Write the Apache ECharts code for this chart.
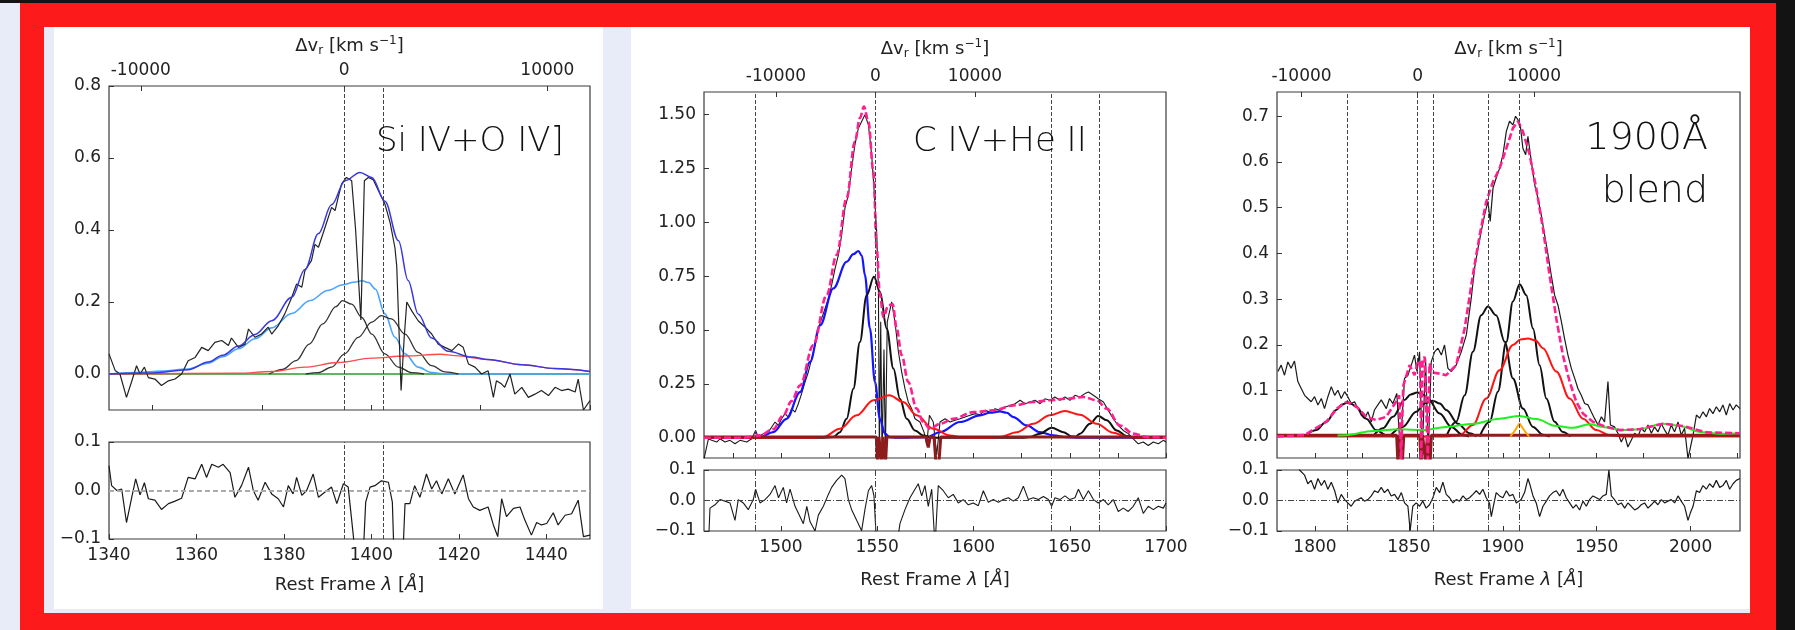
<!DOCTYPE html>
<html>
<head>
<meta charset="utf-8">
<script src="https://cdn.jsdelivr.net/npm/echarts@6/dist/echarts.min.js"></script>
<style>
  html, body { margin: 0; padding: 0; width: 1795px; height: 630px; overflow: hidden; background: #131313; }
  .blk { position: absolute; }
  #chart { position: absolute; left: 0; top: 0; width: 1795px; height: 630px; }
</style>
</head>
<body>
<div class="blk" style="left:0;top:3px;width:20px;height:627px;background:#e8ecf9"></div>
<div class="blk" style="left:20px;top:3px;width:1756px;height:627px;background:#fd1a1a"></div>
<div class="blk" style="left:44px;top:27px;width:1706px;height:586px;background:#e8ecf9"></div>
<div class="blk" style="left:54px;top:27px;width:549px;height:582px;background:#ffffff"></div>
<div class="blk" style="left:631px;top:27px;width:1119px;height:582px;background:#ffffff"></div>
<div id="chart"></div>
<script>
// ---------- axis ranges and ticks ----------
const siRange = [1340, 1450], civRange = [1460, 1700], blendRange = [1779.8, 2026.3];
const siFluxRange = [-0.1, 0.8], civFluxRange = [-0.094, 1.605], blendFluxRange = [-0.047, 0.753];
const residRange = [-0.1, 0.1];
const siYTicks = [0, 0.2, 0.4, 0.6, 0.8];
const civYTicks = [0, 0.25, 0.5, 0.75, 1.0, 1.25, 1.5];
const blendYTicks = [0, 0.1, 0.2, 0.3, 0.4, 0.5, 0.6, 0.7];
const residYTicks = [-0.1, 0, 0.1];
const siWaveLabels = [1340, 1360, 1380, 1400, 1420, 1440];
const civWaveLabels = [1500, 1550, 1600, 1650, 1700];
const blendWaveLabels = [1800, 1850, 1900, 1950, 2000];
const siWaveMinor = [1350, 1375, 1400, 1425, 1450];
const civWaveMinor = [1475, 1500, 1525, 1550, 1575, 1600, 1625, 1650, 1675, 1700];
const blendWaveMinor = [1800, 1825, 1850, 1875, 1900, 1925, 1950, 1975, 2000, 2025];
const velTicks = [-10000, 0, 10000];

// reference wavelengths of the velocity axes and marked line centres [Å]
const siRef = 1393.76, civRef = 1549.06, blendRef = 1854.72;
const siLineCentres = [1393.76, 1402.77];
const civLineCentres = [1486.5, 1549.06, 1640.4, 1665.2];
const blendLineCentres = [1816.98, 1854.72, 1862.79, 1892.03, 1908.73];

const panelNames = ['Si IV+O IV]', 'C IV+He II', '1900Å', 'blend'];

// ---------- Si IV + O IV] ----------
const siData = [[1340.0,0.056],[1341.4,0.010],[1342.5,0.000],[1344.0,-0.065],[1345.2,-0.020],[1346.3,0.023],[1347.1,0.000],[1348.1,0.019],[1349.0,-0.010],[1350.5,-0.014],[1352.0,-0.032],[1353.6,-0.019],[1355.1,-0.014],[1356.6,0.000],[1358.1,0.037],[1359.7,0.046],[1361.2,0.074],[1362.7,0.065],[1364.2,0.088],[1365.8,0.093],[1367.3,0.079],[1368.0,0.100],[1369.6,0.074],[1371.1,0.083],[1371.9,0.125],[1373.4,0.102],[1374.9,0.111],[1376.4,0.130],[1377.2,0.111],[1378.7,0.134],[1380.2,0.167],[1381.8,0.213],[1382.9,0.250],[1384.1,0.241],[1384.8,0.287],[1386.3,0.315],[1387.1,0.360],[1387.9,0.352],[1389.4,0.407],[1390.9,0.463],[1391.7,0.454],[1392.4,0.490],[1393.2,0.528],[1394.3,0.546],[1395.5,0.537],[1396.4,0.400],[1397.6,0.150],[1398.4,0.537],[1399.3,0.546],[1400.4,0.540],[1401.6,0.510],[1403.1,0.472],[1404.3,0.420],[1405.4,0.350],[1405.8,0.300],[1406.8,-0.046],[1407.5,0.100],[1408.1,0.200],[1409.2,0.176],[1410.7,0.148],[1412.3,0.130],[1413.8,0.111],[1415.3,0.083],[1416.8,0.074],[1418.4,0.065],[1419.9,0.083],[1421.0,0.074],[1422.2,0.028],[1423.7,0.019],[1425.2,0.000],[1426.7,0.009],[1427.9,-0.065],[1428.6,-0.019],[1429.8,-0.028],[1430.5,-0.037],[1431.7,0.000],[1432.8,-0.056],[1434.4,-0.037],[1435.9,-0.065],[1437.4,-0.056],[1438.9,-0.046],[1440.5,-0.060],[1442.0,-0.037],[1443.5,-0.046],[1445.0,-0.042],[1446.6,-0.050],[1447.3,-0.014],[1448.5,-0.100],[1450.0,-0.074]];
const siResid = [[1340.0,0.051],[1340.6,0.010],[1341.8,0.000],[1342.9,0.003],[1344.0,-0.066],[1345.2,-0.014],[1346.1,0.024],[1347.1,-0.009],[1348.1,0.016],[1349.0,-0.017],[1350.5,-0.020],[1352.0,-0.039],[1353.6,-0.027],[1355.1,-0.022],[1356.6,-0.016],[1358.1,0.027],[1359.7,0.024],[1361.2,0.054],[1362.3,0.027],[1363.5,0.054],[1365.0,0.048],[1366.1,0.054],[1367.7,0.037],[1368.8,-0.014],[1370.3,0.010],[1371.9,0.048],[1373.0,0.000],[1374.1,-0.020],[1375.7,0.017],[1377.2,-0.007],[1378.7,-0.017],[1379.9,-0.034],[1381.0,0.010],[1382.1,-0.007],[1382.9,0.027],[1384.1,-0.010],[1385.2,0.000],[1386.7,0.034],[1387.9,-0.014],[1389.4,-0.003],[1390.9,0.007],[1392.1,-0.027],[1393.6,0.014],[1394.7,0.007],[1395.9,-0.095],[1396.6,-0.200],[1397.8,-0.200],[1398.7,-0.024],[1399.7,0.007],[1400.8,0.010],[1402.3,0.020],[1403.9,0.017],[1404.8,-0.024],[1405.4,-0.200],[1406.9,-0.200],[1407.7,-0.027],[1408.8,-0.027],[1409.9,0.010],[1411.1,-0.014],[1412.6,0.034],[1413.8,0.003],[1414.9,0.020],[1416.1,-0.007],[1417.6,0.024],[1419.1,-0.007],[1421.0,0.032],[1422.2,-0.017],[1423.3,-0.034],[1424.8,-0.041],[1426.7,-0.034],[1427.9,-0.071],[1428.9,-0.095],[1429.8,-0.017],[1430.9,-0.054],[1432.5,-0.037],[1434.0,-0.034],[1435.1,-0.061],[1436.6,-0.092],[1437.8,-0.066],[1438.9,-0.071],[1440.1,-0.068],[1441.6,-0.046],[1442.7,-0.071],[1444.3,-0.051],[1445.8,-0.048],[1447.3,-0.020],[1448.5,-0.095],[1450.0,-0.092]];
const siTotal = [[1340,0],[1350,0.003],[1358.1,0.012],[1362.7,0.033],[1366,0.052],[1369.6,0.078],[1373.4,0.110],[1377.2,0.148],[1381.8,0.213],[1384.8,0.290],[1387.9,0.390],[1390.9,0.470],[1394.0,0.537],[1397.4,0.560],[1400.1,0.546],[1403.1,0.480],[1406.2,0.370],[1408.4,0.260],[1410.7,0.167],[1413.8,0.100],[1417.6,0.063],[1422.9,0.047],[1426.7,0.040],[1434.4,0.026],[1442,0.015],[1450,0.007]];
const siBroad = [[1340,0],[1346.7,0.004],[1352,0.008],[1358.1,0.014],[1362.7,0.030],[1366,0.048],[1369.6,0.070],[1373.4,0.098],[1377.2,0.128],[1381.8,0.168],[1386,0.204],[1390,0.232],[1393.5,0.248],[1396,0.255],[1397.9,0.259],[1399.4,0.254],[1400.9,0.236],[1403.1,0.167],[1405.4,0.102],[1407.7,0.056],[1410.7,0.019],[1413.8,0.004],[1416.8,0],[1450,0]];
const siCoreA = [[1376.6,0],[1379.7,0.013],[1382.8,0.037],[1385.8,0.083],[1388.9,0.139],[1391.9,0.187],[1393.4,0.204],[1395.5,0.194],[1397.8,0.157],[1400.1,0.111],[1403.1,0.056],[1406.2,0.019],[1409.2,0.004],[1412,0]];
const siCoreB = [[1385,0],[1387.9,0.004],[1390.9,0.019],[1393.9,0.056],[1397,0.102],[1400.1,0.144],[1402.3,0.162],[1404.6,0.153],[1407.7,0.111],[1410.7,0.060],[1413.8,0.023],[1416.8,0.006],[1419.9,0]];
const siRed = [[1340,0],[1369.6,0.002],[1377.2,0.007],[1384.8,0.019],[1392.4,0.032],[1400.1,0.044],[1407.7,0.050],[1415.8,0.055],[1419.1,0.051],[1426.7,0.040],[1434.4,0.026],[1442,0.015],[1450,0.007]];
const siCont = [[1340,0],[1450,0]];

// ---------- C IV + He II ----------
const civData = [[1460.0,-0.098],[1462.3,-0.005],[1464.0,-0.012],[1466.6,-0.020],[1468.3,-0.005],[1470.9,-0.020],[1473.5,-0.012],[1476.1,-0.028],[1478.7,-0.012],[1482.2,-0.020],[1484.8,-0.005],[1486.8,0.034],[1488.2,0.003],[1490.8,0.019],[1493.4,0.026],[1495.2,0.050],[1496.9,0.073],[1498.6,0.057],[1500.3,0.088],[1502.1,0.112],[1503.8,0.096],[1505.5,0.135],[1507.3,0.119],[1509.0,0.158],[1510.7,0.205],[1512.5,0.259],[1514.2,0.305],[1515.9,0.367],[1517.7,0.430],[1519.4,0.507],[1521.1,0.553],[1522.9,0.600],[1524.6,0.647],[1526.3,0.709],[1528.1,0.786],[1529.8,0.848],[1531.5,0.941],[1533.2,1.065],[1535.0,1.127],[1536.7,1.251],[1538.4,1.360],[1540.2,1.437],[1541.9,1.468],[1543.6,1.499],[1545.4,1.453],[1547.1,1.313],[1548.3,1.158],[1549.7,0.957],[1550.6,0.693],[1551.1,-0.080],[1551.8,0.538],[1552.5,-0.080],[1553.5,0.410],[1554.2,-0.080],[1555.2,0.538],[1557.5,0.631],[1559.2,0.538],[1561.0,0.398],[1562.7,0.305],[1564.4,0.228],[1566.1,0.166],[1567.9,0.135],[1569.6,0.088],[1572.2,0.073],[1574.3,0.026],[1575.7,-0.036],[1577.1,0.104],[1579.1,0.073],[1580.9,-0.080],[1582.6,0.073],[1585.2,0.088],[1587.8,0.073],[1590.4,0.081],[1593.0,0.088],[1595.6,0.096],[1598.2,0.104],[1600.8,0.112],[1603.4,0.107],[1606.0,0.127],[1608.6,0.119],[1611.2,0.135],[1613.8,0.127],[1616.4,0.143],[1619.0,0.150],[1621.6,0.158],[1624.2,0.174],[1626.8,0.158],[1629.4,0.166],[1632.0,0.174],[1634.6,0.158],[1637.1,0.181],[1639.7,0.174],[1642.3,0.189],[1644.9,0.174],[1647.5,0.189],[1650.1,0.174],[1652.7,0.197],[1655.3,0.189],[1657.9,0.205],[1659.7,0.212],[1662.3,0.197],[1664.8,0.181],[1667.5,0.166],[1670.0,0.127],[1672.6,0.088],[1675.2,0.057],[1677.8,0.034],[1680.4,0.019],[1683.0,-0.005],[1685.6,-0.028],[1688.2,-0.020],[1690.8,-0.036],[1693.4,-0.020],[1696.0,-0.028],[1698.6,-0.012],[1700.0,-0.020]];
const civResid = [[1460.0,-0.15],[1462.3,-0.15],[1463.1,-0.025],[1465.7,-0.014],[1468.3,0.003],[1470.9,-0.002],[1473.5,-0.008],[1476.1,-0.065],[1477.8,0.003],[1480.4,-0.008],[1483.0,-0.030],[1485.6,0.003],[1486.8,0.037],[1489.1,-0.008],[1491.7,0.003],[1494.3,0.020],[1496.9,0.049],[1498.7,0.009],[1501.2,0.043],[1502.9,-0.008],[1504.7,0.037],[1507.3,-0.019],[1509.9,-0.053],[1511.6,-0.076],[1513.4,-0.019],[1515.1,-0.070],[1517.7,-0.100],[1519.4,-0.048],[1522.0,-0.019],[1524.6,0.020],[1526.3,0.043],[1528.9,0.066],[1531.5,0.083],[1533.2,0.072],[1535.0,0.003],[1536.7,-0.030],[1539.3,-0.065],[1541.9,-0.099],[1543.6,-0.030],[1545.4,0.032],[1547.1,0.049],[1548.3,0.015],[1549.7,-0.15],[1560.1,-0.15],[1561.8,-0.076],[1564.4,-0.030],[1567.0,0.009],[1569.6,0.037],[1571.3,0.055],[1573.1,0.015],[1574.8,0.049],[1576.5,-0.019],[1578.3,0.037],[1580.0,-0.15],[1581.7,0.049],[1584.3,0.032],[1586.9,0.009],[1589.5,0.020],[1592.1,-0.008],[1594.7,0.003],[1597.3,-0.014],[1599.9,-0.008],[1602.5,-0.017],[1605.1,0.032],[1607.7,-0.006],[1610.3,0.003],[1612.9,-0.006],[1615.5,0.003],[1618.1,0.009],[1620.7,-0.002],[1623.3,0.009],[1625.9,0.047],[1628.5,0.003],[1631.1,0.009],[1633.7,0.003],[1636.3,0.013],[1638.9,0.003],[1640.6,-0.019],[1642.3,0.009],[1644.9,0.003],[1647.5,0.015],[1650.1,0.003],[1652.7,0.009],[1654.5,0.037],[1657.1,0.003],[1659.7,0.032],[1662.3,0.003],[1664.8,-0.008],[1667.5,0.003],[1670.0,-0.014],[1672.6,0.003],[1675.2,-0.036],[1677.8,-0.025],[1680.4,-0.036],[1683.0,-0.019],[1685.6,0.009],[1688.2,-0.042],[1690.8,-0.019],[1693.4,-0.030],[1696.0,-0.019],[1698.6,-0.025],[1700.0,-0.008]];
const civTotal = [[1460,0],[1480,0],[1489.1,0.011],[1496,0.040],[1501.2,0.104],[1505.5,0.170],[1509.9,0.243],[1516.8,0.430],[1523.7,0.662],[1528.9,0.848],[1534.1,1.112],[1538.4,1.375],[1541.0,1.484],[1543.1,1.538],[1545.4,1.468],[1548.0,1.236],[1549.7,0.879],[1551.4,0.662],[1553.2,0.560],[1555.8,0.615],[1558.0,0.620],[1560.1,0.507],[1562.7,0.383],[1566.1,0.259],[1570.5,0.135],[1573.9,0.073],[1577.4,0.042],[1582.6,0.065],[1589.5,0.088],[1599.9,0.119],[1610.3,0.127],[1620.7,0.150],[1631.1,0.166],[1639.7,0.174],[1648.4,0.181],[1657.1,0.189],[1664.0,0.174],[1669.2,0.135],[1676.1,0.057],[1683.0,0.019],[1690,0.003],[1700,0]];
const civBlue = [[1460,0],[1484,0],[1489.1,0.003],[1496,0.026],[1502.9,0.088],[1509.9,0.212],[1515.1,0.352],[1520.3,0.522],[1527.2,0.693],[1534.1,0.817],[1537.6,0.852],[1540.2,0.867],[1542,0.845],[1543.6,0.755],[1546.2,0.507],[1548.8,0.259],[1551.4,0.088],[1554,0.019],[1556.6,0.003],[1560,0],[1575.7,0.003],[1582.6,0.026],[1593,0.073],[1603.4,0.104],[1608.6,0.116],[1613.8,0.122],[1617.3,0.116],[1620.7,0.096],[1627.6,0.057],[1634.5,0.026],[1641.5,0.011],[1648.4,0.003],[1655,0],[1700,0]];
const civCores = [[1460,0],[1520,0],[1527.2,0.003],[1530.6,0.026],[1534.1,0.088],[1537.6,0.228],[1541,0.445],[1544.5,0.662],[1548.3,0.747],[1551.4,0.678],[1554.9,0.507],[1558.4,0.321],[1561.8,0.181],[1565.3,0.088],[1569.6,0.034],[1573.9,0.011],[1579.1,0],[1625,0],[1629,0.003],[1634.5,0.019],[1640.6,0.047],[1646.7,0.026],[1651,0.006],[1653,0.005],[1655.3,0.019],[1660.5,0.065],[1664.8,0.101],[1669.2,0.081],[1674.4,0.034],[1679.6,0.008],[1684,0],[1700,0]];
const civRed = [[1460,0],[1515,0],[1522,0.003],[1530.6,0.042],[1539.3,0.104],[1548,0.174],[1556.3,0.197],[1563.5,0.166],[1570.5,0.104],[1579.1,0.042],[1587.8,0.011],[1594.7,0],[1608,0],[1613.8,0.003],[1622.4,0.026],[1631.1,0.065],[1639.7,0.104],[1647.5,0.124],[1655.3,0.107],[1664,0.065],[1672.6,0.023],[1679.6,0.005],[1686,0],[1700,0]];
const civAbs = [[1460,0.004],[1549.5,0.004],[1550.2,-0.12],[1550.9,0.004],[1551.6,0.004],[1552.3,-0.12],[1553.0,0.004],[1553.6,0.004],[1554.3,-0.12],[1555.0,0.004],[1575.5,0.004],[1576.5,-0.045],[1577.5,0.004],[1579.5,0.004],[1580.5,-0.12],[1582,-0.12],[1583,0.004],[1700,0.004]];

// ---------- 1900 Å blend ----------
const blendData = [[1780.3,0.142],[1782.0,0.156],[1783.8,0.134],[1785.6,0.163],[1787.3,0.149],[1789.1,0.165],[1790.9,0.120],[1792.7,0.105],[1794.5,0.090],[1796.2,0.083],[1798.0,0.076],[1799.8,0.087],[1801.6,0.069],[1803.4,0.083],[1805.1,0.061],[1806.9,0.087],[1808.7,0.109],[1810.5,0.090],[1812.2,0.101],[1814.0,0.083],[1815.8,0.098],[1817.5,0.087],[1819.3,0.072],[1821.1,0.076],[1822.9,0.061],[1824.6,0.047],[1826.4,0.039],[1828.2,0.054],[1830.0,0.032],[1831.7,0.058],[1833.5,0.069],[1835.3,0.080],[1838.0,0.061],[1839.7,0.083],[1841.5,0.072],[1843.6,0.094],[1845.4,-0.030],[1847.7,0.127],[1849.5,0.134],[1851.3,0.156],[1853.0,0.178],[1854.3,0.142],[1855.7,0.185],[1857.1,-0.040],[1858.9,0.171],[1860.3,-0.040],[1861.9,0.163],[1863.7,0.185],[1865.5,0.193],[1867.3,0.178],[1869.0,0.200],[1870.8,0.149],[1872.6,0.142],[1875.2,0.156],[1877.9,0.185],[1880.6,0.222],[1883.2,0.302],[1885.0,0.368],[1886.8,0.411],[1888.5,0.448],[1890.3,0.484],[1892.1,0.514],[1893.3,0.470],[1894.8,0.543],[1896.5,0.565],[1898.3,0.586],[1900.1,0.616],[1901.9,0.667],[1903.6,0.689],[1905.4,0.681],[1906.8,0.700],[1908.1,0.692],[1909.3,0.681],[1910.7,0.630],[1912.2,0.616],[1913.4,0.656],[1915.2,0.601],[1917.0,0.550],[1918.7,0.521],[1920.5,0.484],[1922.3,0.440],[1924.1,0.397],[1925.8,0.353],[1927.6,0.309],[1929.4,0.287],[1931.2,0.251],[1932.9,0.214],[1934.7,0.178],[1936.5,0.149],[1938.3,0.127],[1940.0,0.105],[1941.8,0.090],[1943.6,0.072],[1945.4,0.069],[1947.1,0.054],[1948.9,0.039],[1950.7,0.025],[1952.5,0.043],[1954.2,0.032],[1956.0,0.120],[1957.3,0.025],[1959.5,0.021],[1961.3,0.007],[1963.1,-0.012],[1964.9,0.003],[1966.6,-0.023],[1968.4,-0.008],[1970.2,0.007],[1972.0,0.000],[1973.7,0.018],[1975.5,0.010],[1977.3,0.025],[1979.1,0.007],[1980.8,0.021],[1982.6,0.010],[1984.4,0.028],[1986.2,0.014],[1987.9,0.003],[1989.7,0.025],[1991.5,0.010],[1993.3,0.032],[1995.0,0.003],[1996.8,0.018],[1998.6,-0.048],[1999.8,-0.026],[2001.3,0.003],[2003.1,0.047],[2004.8,0.040],[2006.6,0.054],[2008.4,0.043],[2010.1,0.061],[2011.9,0.050],[2013.7,0.065],[2015.5,0.054],[2017.2,0.069],[2019.0,0.047],[2020.8,0.072],[2022.6,0.058],[2024.3,0.069],[2026.3,0.061]];
const blendResid = [[1779.8,0.15],[1791.0,0.15],[1791.8,0.100],[1794.5,0.083],[1796.2,0.055],[1798.0,0.066],[1799.8,0.037],[1801.6,0.072],[1803.4,0.049],[1805.1,0.066],[1806.9,0.037],[1808.7,0.060],[1810.5,0.032],[1812.2,-0.008],[1814.0,0.020],[1815.8,0.003],[1817.5,-0.008],[1819.3,-0.019],[1821.1,-0.002],[1822.9,0.003],[1824.6,0.009],[1826.4,-0.002],[1828.2,0.003],[1830.0,0.015],[1831.7,0.032],[1833.5,0.026],[1835.3,0.043],[1837.0,0.026],[1838.8,0.037],[1840.6,0.015],[1842.4,0.020],[1844.2,0.003],[1846.0,0.026],[1847.7,-0.008],[1849.5,-0.019],[1850.7,-0.099],[1852.1,-0.019],[1853.9,-0.008],[1855.7,-0.019],[1857.4,-0.002],[1859.2,-0.025],[1861.0,-0.014],[1862.8,0.009],[1864.6,0.043],[1866.4,0.026],[1868.1,0.060],[1869.9,0.020],[1871.7,0.009],[1873.5,-0.008],[1875.2,0.003],[1877.0,-0.002],[1878.8,0.015],[1880.6,0.003],[1882.3,0.009],[1884.1,0.020],[1885.9,0.032],[1887.7,0.020],[1889.4,0.037],[1891.2,0.009],[1892.9,-0.008],[1893.9,-0.053],[1894.8,-0.025],[1896.5,0.026],[1898.3,0.015],[1900.1,0.009],[1901.9,0.032],[1903.6,0.015],[1905.4,0.020],[1907.2,-0.008],[1909.8,0.003],[1911.6,0.026],[1913.4,0.072],[1914.6,0.049],[1916.1,0.015],[1917.8,-0.008],[1919.6,-0.053],[1921.4,-0.019],[1923.2,-0.002],[1924.9,0.015],[1926.7,0.026],[1928.5,0.032],[1930.3,0.015],[1932.0,0.037],[1933.8,0.009],[1935.6,-0.008],[1937.4,-0.025],[1939.1,-0.014],[1940.9,-0.031],[1942.7,-0.002],[1944.5,-0.019],[1946.2,0.003],[1948.0,0.015],[1949.8,0.009],[1951.6,0.003],[1953.3,0.015],[1955.1,0.020],[1956.5,0.100],[1957.8,0.015],[1959.5,0.003],[1961.3,-0.014],[1963.1,-0.008],[1964.9,-0.025],[1966.6,-0.008],[1968.4,-0.019],[1970.2,-0.031],[1972.0,-0.025],[1973.7,-0.014],[1975.5,-0.008],[1977.3,-0.025],[1979.1,-0.014],[1980.8,-0.002],[1982.6,-0.014],[1984.4,0.003],[1986.2,-0.008],[1987.9,-0.002],[1989.7,0.003],[1991.5,-0.008],[1993.3,0.015],[1995.0,-0.002],[1996.8,-0.019],[1998.6,-0.065],[1999.8,-0.042],[2001.3,-0.019],[2003.1,0.032],[2004.8,0.026],[2006.6,0.049],[2008.4,0.037],[2010.1,0.055],[2011.9,0.043],[2013.7,0.066],[2015.5,0.043],[2017.2,0.049],[2019.0,0.066],[2020.8,0.037],[2022.6,0.055],[2024.3,0.066],[2026.3,0.072]];
const blendTotal = [[1779.8,0],[1794.5,0.003],[1806,0.032],[1812,0.062],[1817,0.076],[1822,0.066],[1827.3,0.043],[1832.6,0.036],[1837.9,0.043],[1843.2,0.076],[1844.8,0.090],[1845.9,-0.050],[1847,0.110],[1847.7,0.120],[1850.4,0.156],[1853,0.134],[1854.8,0.163],[1856,0.165],[1856.6,-0.050],[1857.3,0.168],[1858.4,0.174],[1859.3,0.170],[1860.1,-0.050],[1861,0.160],[1862.4,0.140],[1865.5,0.138],[1869.9,0.134],[1875.2,0.156],[1879.7,0.236],[1884.1,0.353],[1887.7,0.440],[1891.2,0.513],[1894.8,0.557],[1898.3,0.586],[1901.9,0.630],[1905.4,0.674],[1908.1,0.689],[1910.7,0.667],[1914.3,0.616],[1917.8,0.543],[1921.4,0.455],[1924.9,0.353],[1928.5,0.258],[1932,0.178],[1935.6,0.120],[1939.1,0.076],[1942.7,0.050],[1948,0.032],[1955.1,0.021],[1962.2,0.014],[1972.9,0.016],[1985.3,0.028],[1996,0.023],[2008.4,0.009],[2026.3,0.007]];
const blendSiII = [[1794.5,0],[1800.7,0.014],[1806,0.032],[1811.3,0.058],[1814.5,0.070],[1817,0.074],[1819.5,0.071],[1822,0.065],[1827.3,0.039],[1832.6,0.014],[1837.9,0.003],[1842,0]];
const blendAlIIIa = [[1830.8,0],[1836.2,0.018],[1841.5,0.043],[1847.7,0.080],[1851,0.092],[1854.4,0.096],[1857.5,0.092],[1860.1,0.083],[1866.4,0.050],[1872.6,0.021],[1878.8,0.003],[1882,0]];
const blendAlIIIb = [[1839.7,0],[1846.8,0.021],[1853.9,0.054],[1858.5,0.072],[1862.8,0.078],[1866.5,0.072],[1869.9,0.058],[1876.1,0.028],[1882.3,0.007],[1886,0]];
const blendSiIII = [[1869.9,0],[1875.2,0.032],[1879.7,0.090],[1884.1,0.185],[1888.5,0.265],[1892.1,0.284],[1896.5,0.265],[1901,0.207],[1905.4,0.127],[1910.7,0.061],[1916.1,0.021],[1921.4,0.004],[1925,0]];
const blendCIII = [[1887.7,0],[1893,0.032],[1897.4,0.098],[1901.9,0.207],[1905.4,0.295],[1909,0.333],[1912.5,0.309],[1916.1,0.236],[1919.6,0.156],[1923.2,0.083],[1927.6,0.032],[1932,0.010],[1936,0]];
const blendRed = [[1779.8,0],[1870,0],[1877,0.003],[1884.1,0.025],[1891.2,0.083],[1898.3,0.145],[1905.4,0.200],[1909.5,0.212],[1913.4,0.214],[1917.5,0.210],[1921.4,0.193],[1928.5,0.142],[1935.6,0.083],[1942.7,0.039],[1949.8,0.014],[1956.9,0.003],[1964,0],[2026.3,0]];
const blendFe = [[1812,0.002],[1816.6,0.003],[1830.8,0.012],[1845,0.016],[1857.5,0.014],[1869.9,0.021],[1884.1,0.028],[1898.3,0.039],[1909,0.045],[1917.8,0.038],[1928.5,0.023],[1937.4,0.019],[1946.2,0.027],[1953.3,0.021],[1964,0.014],[1972.9,0.016],[1985.3,0.028],[1994.2,0.023],[2004.8,0.010],[2015.5,0.006],[2026.3,0.007]];
const blendNarrow = [[1904,0],[1906.5,0.013],[1908.9,0.029],[1911.5,0.013],[1914,0]];
const blendAbs = [[1779.8,0.003],[1843.5,0.003],[1844.2,-0.06],[1845,0.003],[1845.8,0.003],[1846.5,-0.06],[1847.3,0.003],[1855.8,0.003],[1856.5,-0.06],[1857.3,0.003],[1858.3,0.003],[1859,-0.06],[1859.8,0.003],[1860.6,0.003],[1861.3,-0.06],[1862,0.003],[2026.3,0.003]];

// ---------- drawing ----------
const C_KMS = 299792.458;
const vel = (lam, ref) => C_KMS * (lam / ref - 1);
const FONT = 'DejaVu Sans';
const TXT = '#222';
const labelStyle = { color: TXT, fontFamily: FONT, fontSize: 17 };
const minusFmt = dec => v => (v < -1e-9 ? '\u2212' : '') + Math.abs(v).toFixed(dec);

const velName = '{t|\u0394v}{s|r}{t| [km s}{p|\u22121}{t|]}';
const velRich = {
  t: { fontFamily: FONT, fontSize: 18, color: TXT, lineHeight: 22 },
  s: { fontFamily: FONT, fontSize: 12, color: TXT, lineHeight: 10, verticalAlign: 'bottom' },
  p: { fontFamily: FONT, fontSize: 12, color: TXT, lineHeight: 10, verticalAlign: 'top' }
};
const waveName = '{t|Rest Frame }{i|\u03bb}{t| [}{i|\u00c5}{t|]}';
const waveRich = {
  t: { fontFamily: FONT, fontSize: 18, color: TXT },
  i: { fontFamily: FONT, fontSize: 18, color: TXT, fontStyle: 'italic' }
};

const grids = [], xAxes = [], yAxes = [], series = [];

function addPanel(L, D) {
  const g = grids.length;
  const frame = { show: true, borderColor: '#3a3a3a', borderWidth: 1.2, backgroundColor: 'rgba(0,0,0,0)', outerBoundsMode: 'none', containLabel: false };
  grids.push(Object.assign({ left: L.x, top: L.top, width: L.w, height: L.h }, frame));
  grids.push(Object.assign({ left: L.x, top: L.rtop, width: L.w, height: L.rh }, frame));
  const xi = xAxes.length, yi = yAxes.length;
  const tick = vals => ({ show: true, inside: true, length: 5, customValues: vals, lineStyle: { color: '#333', width: 1 } });
  const noLine = { show: false, onZero: false };
  // wavelength axis under the fit panel: ticks only
  xAxes.push({ gridIndex: g, type: 'value', position: 'bottom', min: D.range[0], max: D.range[1],
    axisLine: noLine, splitLine: { show: false }, axisLabel: { show: false }, axisTick: tick(D.minor) });
  // velocity axis on top
  xAxes.push({ gridIndex: g, type: 'value', position: 'top', min: vel(D.range[0], D.ref), max: vel(D.range[1], D.ref),
    axisLine: noLine, splitLine: { show: false },
    axisLabel: Object.assign({ margin: 7, customValues: velTicks, formatter: v => String(Math.round(v)) }, labelStyle),
    axisTick: tick(velTicks),
    name: velName, nameLocation: 'middle', nameGap: L.vGap, nameTextStyle: { rich: velRich } });
  // wavelength axis under the residuals
  xAxes.push({ gridIndex: g + 1, type: 'value', position: 'bottom', min: D.range[0], max: D.range[1],
    axisLine: noLine, splitLine: { show: false },
    axisLabel: Object.assign({ margin: 8, customValues: D.labels, formatter: v => String(v) }, labelStyle),
    axisTick: tick(D.labels),
    name: waveName, nameLocation: 'middle', nameGap: L.xGap, nameTextStyle: { rich: waveRich } });
  yAxes.push({ gridIndex: g, type: 'value', min: D.yRange[0], max: D.yRange[1],
    axisLine: noLine, splitLine: { show: false },
    axisLabel: Object.assign({ margin: 8, customValues: D.yTicks, formatter: minusFmt(D.dec) }, labelStyle),
    axisTick: tick(D.yTicks) });
  yAxes.push({ gridIndex: g + 1, type: 'value', min: residRange[0], max: residRange[1],
    axisLine: noLine, splitLine: { show: false },
    axisLabel: Object.assign({ margin: 8, customValues: residYTicks, formatter: minusFmt(1) }, labelStyle),
    axisTick: tick(residYTicks) });

  const vlines = D.centres.map(c => ({ xAxis: c }));
  L.curves.forEach(cv => {
    const s = {
      type: 'line', xAxisIndex: xi, yAxisIndex: yi, data: cv.data, showSymbol: false, symbol: 'none',
      silent: true, animation: false, clip: true, z: cv.z || 2,
      smooth: cv.smooth ? 0.35 : false, smoothMonotone: cv.smooth ? 'x' : undefined,
      lineStyle: { color: cv.color, width: cv.width, type: cv.dash || 'solid' }
    };
    if (cv.marks) {
      s.markLine = { silent: true, symbol: ['none', 'none'], animation: false, label: { show: false },
        lineStyle: { color: '#444', width: 1, type: [4, 2] }, data: vlines };
    }
    series.push(s);
  });
  series.push({
    type: 'line', xAxisIndex: xi + 2, yAxisIndex: yi + 1, data: D.resid, showSymbol: false, symbol: 'none',
    silent: true, animation: false, clip: true,
    lineStyle: { color: '#1a1a1a', width: L.residWidth },
    markLine: { silent: true, symbol: ['none', 'none'], animation: false, label: { show: false },
      data: [{ yAxis: 0, lineStyle: L.zeroStyle }].concat(vlines.map(v => Object.assign({ lineStyle: { color: '#444', width: 1, type: L.residVDash } }, v))) }
  });
}

addPanel({
  x: 109, top: 86, w: 481, h: 324, rtop: 442, rh: 97, vGap: 28, xGap: 37, residWidth: 1.2,
  zeroStyle: { color: '#aaaaaa', width: 2, type: [5, 3] }, residVDash: [4, 2],
  curves: [
    { data: siCont, color: '#2e9a2e', width: 1.6 },
    { data: siBroad, color: '#4aa3ff', width: 1.6, smooth: true },
    { data: siCoreA, color: '#333333', width: 1.3, smooth: true },
    { data: siCoreB, color: '#333333', width: 1.3, smooth: true },
    { data: siRed, color: '#ff4a4a', width: 1.4, smooth: true },
    { data: siData, color: '#222222', width: 1.2, marks: true },
    { data: siTotal, color: '#3838e0', width: 1.5, smooth: true }
  ]
}, { range: siRange, ref: siRef, minor: siWaveMinor, labels: siWaveLabels, yRange: siFluxRange, yTicks: siYTicks, dec: 1, centres: siLineCentres, resid: siResid });

addPanel({
  x: 704, top: 92, w: 462, h: 366, rtop: 470, rh: 61, vGap: 32, xGap: 40, residWidth: 1.1,
  zeroStyle: { color: '#444', width: 1, type: [6, 2, 1, 2] }, residVDash: [6, 2, 1, 2],
  curves: [
    { data: civData, color: '#1a1a1a', width: 1.1, marks: true },
    { data: civBlue, color: '#1414ff', width: 2.2, smooth: true },
    { data: civCores, color: '#111111', width: 2, smooth: true },
    { data: civRed, color: '#ff1414', width: 2, smooth: true },
    { data: civAbs, color: '#8e1c1c', width: 3 },
    { data: civTotal, color: '#ff1f8f', width: 2.6, dash: [7, 3], smooth: true }
  ]
}, { range: civRange, ref: civRef, minor: civWaveMinor, labels: civWaveLabels, yRange: civFluxRange, yTicks: civYTicks, dec: 2, centres: civLineCentres, resid: civResid });

addPanel({
  x: 1277, top: 92, w: 463, h: 366, rtop: 470, rh: 61, vGap: 32, xGap: 40, residWidth: 1.2,
  zeroStyle: { color: '#444', width: 1, type: [6, 2, 1, 2] }, residVDash: [6, 2, 1, 2],
  curves: [
    { data: blendData, color: '#1a1a1a', width: 1.2, marks: true },
    { data: blendSiII, color: '#111111', width: 2, smooth: true },
    { data: blendAlIIIa, color: '#111111', width: 2, smooth: true },
    { data: blendAlIIIb, color: '#111111', width: 2, smooth: true },
    { data: blendSiIII, color: '#111111', width: 2, smooth: true },
    { data: blendCIII, color: '#111111', width: 2, smooth: true },
    { data: blendRed, color: '#ff1414', width: 2, smooth: true },
    { data: blendAbs, color: '#8e1c1c', width: 3 },
    { data: blendFe, color: '#22ee22', width: 2, smooth: true },
    { data: blendNarrow, color: '#ffa500', width: 2 },
    { data: blendTotal, color: '#ff1f8f', width: 2.6, dash: [7, 3] }
  ]
}, { range: blendRange, ref: blendRef, minor: blendWaveMinor, labels: blendWaveLabels, yRange: blendFluxRange, yTicks: blendYTicks, dec: 1, centres: blendLineCentres, resid: blendResid });

const bigText = (text, x, y, size, align) => ({
  type: 'text', x: x, y: y, silent: true, z: 10,
  style: { text: text, fontFamily: FONT, fontWeight: 200, fontSize: size, fill: '#111', align: align, verticalAlign: 'middle' }
});

const chart = echarts.init(document.getElementById('chart'), null, { renderer: 'canvas' });
chart.setOption({
  backgroundColor: 'rgba(0,0,0,0)',
  animation: false,
  grid: grids,
  xAxis: xAxes,
  yAxis: yAxes,
  series: series,
  graphic: [
    bigText(panelNames[0], 376, 142, 34, 'left'),
    bigText(panelNames[1], 913, 142, 34, 'left'),
    bigText(panelNames[2], 1708, 139, 38, 'right'),
    bigText(panelNames[3], 1708, 192, 38, 'right')
  ]
});
</script>
</body>
</html>
